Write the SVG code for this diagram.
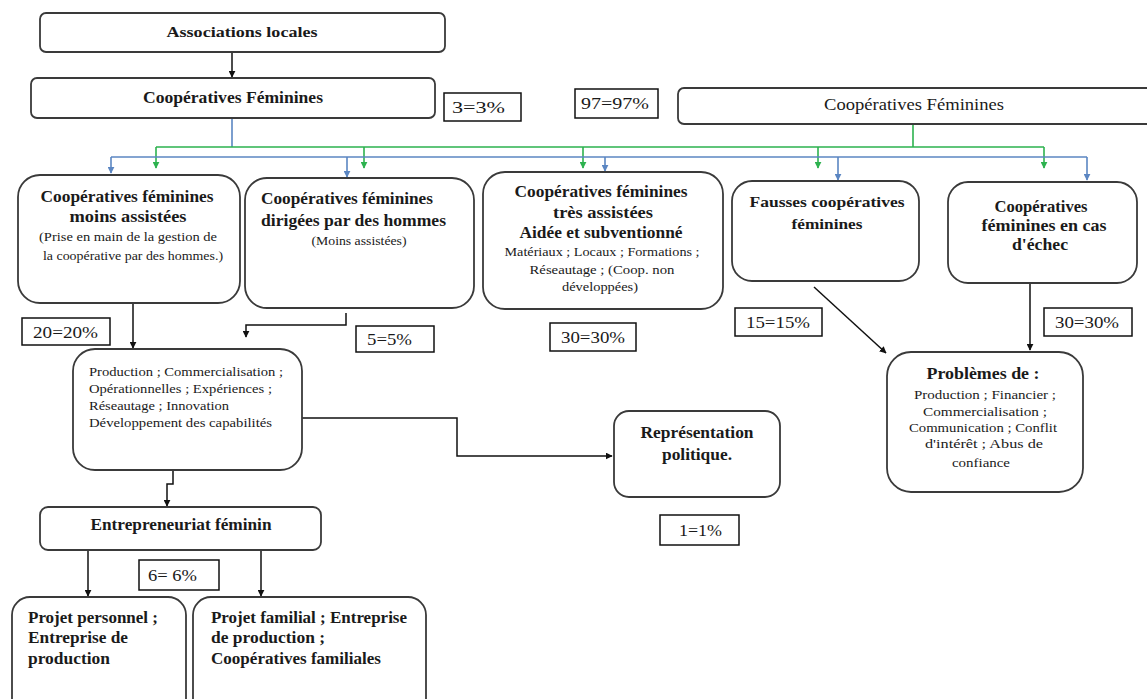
<svg xmlns="http://www.w3.org/2000/svg" width="1147" height="699" viewBox="0 0 1147 699">
<style>
.box{fill:#fff;stroke:#3a3a3a;stroke-width:1.8}
.pbox{fill:#fff;stroke:#111;stroke-width:1.5}
.t{font-family:"Liberation Serif","Times New Roman","DejaVu Serif",serif;fill:#1a1a1a}
.b{font-weight:bold}
.c{text-anchor:middle}
.blk{fill:none;stroke:#111;stroke-width:1.5}
.grn{fill:none;stroke:#2db24f;stroke-width:1.6}
.blu{fill:none;stroke:#5b86c2;stroke-width:1.6}
</style>
<defs>
<marker id="ab" viewBox="0 0 10 10" refX="9" refY="5" markerWidth="7" markerHeight="7" orient="auto" markerUnits="userSpaceOnUse"><path d="M0,0L10,5L0,10z" fill="#111"/></marker>
<marker id="ag" viewBox="0 0 10 10" refX="9" refY="5" markerWidth="7" markerHeight="7" orient="auto" markerUnits="userSpaceOnUse"><path d="M0,0L10,5L0,10z" fill="#2db24f"/></marker>
<marker id="al" viewBox="0 0 10 10" refX="9" refY="5" markerWidth="7" markerHeight="7" orient="auto" markerUnits="userSpaceOnUse"><path d="M0,0L10,5L0,10z" fill="#5b86c2"/></marker>
</defs>
<rect width="1147" height="699" fill="#fff"/>

<g id="connectors">
<path class="blk" d="M232,52V77" marker-end="url(#ab)"/>
<path class="blu" d="M232,118V147"/>
<path class="grn" d="M913,124V147M156,147H1044"/>
<path class="grn" d="M156,147V168" marker-end="url(#ag)"/>
<path class="grn" d="M364,147V168" marker-end="url(#ag)"/>
<path class="grn" d="M583,147V168" marker-end="url(#ag)"/>
<path class="grn" d="M818,147V168" marker-end="url(#ag)"/>
<path class="grn" d="M1044,147V168" marker-end="url(#ag)"/>
<path class="blu" d="M111,157H1087"/>
<path class="blu" d="M111,157V173" marker-end="url(#al)"/>
<path class="blu" d="M347,157V177" marker-end="url(#al)"/>
<path class="blu" d="M605,157V171" marker-end="url(#al)"/>
<path class="blu" d="M838,157V180" marker-end="url(#al)"/>
<path class="blu" d="M1087,157V180" marker-end="url(#al)"/>
<path class="blk" d="M133,302V348" marker-end="url(#ab)"/>
<path class="blk" d="M346,313V325H246V337" marker-end="url(#ab)"/>
<path class="blk" d="M302,418H457V456H612" marker-end="url(#ab)"/>
<path class="blk" d="M173,465V484H167V506" marker-end="url(#ab)"/>
<path class="blk" d="M814,287L886,353" marker-end="url(#ab)"/>
<path class="blk" d="M1030,283V350" marker-end="url(#ab)"/>
<path class="blk" d="M88,551V596" marker-end="url(#ab)"/>
<path class="blk" d="M261,551V596" marker-end="url(#ab)"/>
</g>

<g id="associations">
<rect class="box" x="40" y="13" width="405" height="39" rx="6"/>
<text class="t b c" x="242" y="37" font-size="15" textLength="151" lengthAdjust="spacingAndGlyphs">Associations locales</text>
</g>
<g id="coop-left">
<rect class="box" x="31" y="78" width="404" height="40" rx="6"/>
<text class="t b c" x="233" y="103" font-size="16" textLength="180" lengthAdjust="spacingAndGlyphs">Coopératives Féminines</text>
</g>
<g id="coop-right">
<rect class="box" x="678" y="88" width="480" height="36" rx="6"/>
<text class="t c" x="914" y="110" font-size="16" textLength="180" lengthAdjust="spacingAndGlyphs">Coopératives Féminines</text>
</g>
<g id="p3">
<rect class="pbox" x="444" y="93" width="77" height="28"/>
<text class="t" x="452" y="113" font-size="16" textLength="53" lengthAdjust="spacingAndGlyphs">3=3%</text>
</g>
<g id="p97">
<rect class="pbox" x="575" y="89" width="83" height="29"/>
<text class="t" x="581" y="109" font-size="16" textLength="68" lengthAdjust="spacingAndGlyphs">97=97%</text>
</g>

<g id="n1">
<rect class="box" x="18" y="175" width="222" height="128" rx="22"/>
<text class="t b c" x="127" y="202" font-size="16" textLength="173" lengthAdjust="spacingAndGlyphs">Coopératives féminines</text>
<text class="t b c" x="128" y="222" font-size="16" textLength="117" lengthAdjust="spacingAndGlyphs">moins assistées</text>
<text class="t c" x="128" y="241" font-size="12" textLength="178" lengthAdjust="spacingAndGlyphs">(Prise en main de la gestion de</text>
<text class="t c" x="133" y="260" font-size="12" textLength="180" lengthAdjust="spacingAndGlyphs">la coopérative par des hommes.)</text>
</g>
<g id="n2">
<rect class="box" x="245" y="178" width="229" height="130" rx="22"/>
<text class="t b" x="261" y="204" font-size="17" textLength="172" lengthAdjust="spacingAndGlyphs">Coopératives féminines</text>
<text class="t b" x="261" y="226" font-size="17" textLength="185" lengthAdjust="spacingAndGlyphs">dirigées par des hommes</text>
<text class="t c" x="359" y="245" font-size="12" textLength="95" lengthAdjust="spacingAndGlyphs">(Moins assistées)</text>
</g>
<g id="n3">
<rect class="box" x="483" y="172" width="240" height="137" rx="22"/>
<text class="t b c" x="601" y="197" font-size="16" textLength="173" lengthAdjust="spacingAndGlyphs">Coopératives féminines</text>
<text class="t b c" x="603" y="218" font-size="16" textLength="100" lengthAdjust="spacingAndGlyphs">très assistées</text>
<text class="t b c" x="601" y="238" font-size="16" textLength="163" lengthAdjust="spacingAndGlyphs">Aidée et subventionné</text>
<text class="t c" x="602" y="256" font-size="12" textLength="195" lengthAdjust="spacingAndGlyphs">Matériaux ; Locaux ; Formations ;</text>
<text class="t c" x="602" y="274" font-size="12" textLength="145" lengthAdjust="spacingAndGlyphs">Réseautage ;  (Coop. non</text>
<text class="t c" x="600" y="291" font-size="12" textLength="76" lengthAdjust="spacingAndGlyphs">développées)</text>
</g>
<g id="n4">
<rect class="box" x="732" y="181" width="187" height="100" rx="20"/>
<text class="t b c" x="827" y="207" font-size="15" textLength="155" lengthAdjust="spacingAndGlyphs">Fausses coopératives</text>
<text class="t b c" x="827" y="229" font-size="15" textLength="71" lengthAdjust="spacingAndGlyphs">féminines</text>
</g>
<g id="n5">
<rect class="box" x="948" y="182" width="189" height="101" rx="20"/>
<text class="t b c" x="1041" y="212" font-size="16" textLength="93" lengthAdjust="spacingAndGlyphs">Coopératives</text>
<text class="t b c" x="1044" y="231" font-size="16" textLength="125" lengthAdjust="spacingAndGlyphs">féminines en cas</text>
<text class="t b c" x="1040" y="250" font-size="16" textLength="56" lengthAdjust="spacingAndGlyphs">d'échec</text>
</g>

<g id="p20">
<rect class="pbox" x="22" y="318" width="88" height="27"/>
<text class="t" x="33" y="338" font-size="16" textLength="65" lengthAdjust="spacingAndGlyphs">20=20%</text>
</g>
<g id="p5">
<rect class="pbox" x="356" y="326" width="78" height="26"/>
<text class="t" x="367" y="345" font-size="16" textLength="45" lengthAdjust="spacingAndGlyphs">5=5%</text>
</g>
<g id="p30a">
<rect class="pbox" x="550" y="323" width="86" height="28"/>
<text class="t" x="561" y="343" font-size="16" textLength="64" lengthAdjust="spacingAndGlyphs">30=30%</text>
</g>
<g id="p15">
<rect class="pbox" x="735" y="308" width="87" height="28"/>
<text class="t" x="746" y="328" font-size="16" textLength="64" lengthAdjust="spacingAndGlyphs">15=15%</text>
</g>
<g id="p30b">
<rect class="pbox" x="1044" y="308" width="88" height="28"/>
<text class="t" x="1055" y="328" font-size="16" textLength="64" lengthAdjust="spacingAndGlyphs">30=30%</text>
</g>

<g id="production">
<rect class="box" x="73" y="349" width="229" height="121" rx="22"/>
<text class="t" x="89" y="376" font-size="13" textLength="194" lengthAdjust="spacingAndGlyphs">Production ; Commercialisation ;</text>
<text class="t" x="89" y="393" font-size="13" textLength="183" lengthAdjust="spacingAndGlyphs">Opérationnelles ; Expériences ;</text>
<text class="t" x="89" y="410" font-size="13" textLength="140" lengthAdjust="spacingAndGlyphs">Réseautage ; Innovation</text>
<text class="t" x="89" y="427" font-size="13" textLength="183" lengthAdjust="spacingAndGlyphs">Développement des capabilités</text>
</g>
<g id="representation">
<rect class="box" x="614" y="411" width="166" height="86" rx="15"/>
<text class="t b c" x="697" y="438" font-size="16" textLength="113" lengthAdjust="spacingAndGlyphs">Représentation</text>
<text class="t b c" x="697" y="460" font-size="16" textLength="70" lengthAdjust="spacingAndGlyphs">politique.</text>
</g>
<g id="p1">
<rect class="pbox" x="660" y="515" width="79" height="30"/>
<text class="t" x="679" y="536" font-size="16" textLength="43" lengthAdjust="spacingAndGlyphs">1=1%</text>
</g>
<g id="problemes">
<rect class="box" x="887" y="352" width="196" height="140" rx="24"/>
<text class="t b c" x="983" y="379" font-size="17" textLength="113" lengthAdjust="spacingAndGlyphs">Problèmes de :</text>
<text class="t c" x="985" y="399" font-size="12" textLength="142" lengthAdjust="spacingAndGlyphs">Production ; Financier ;</text>
<text class="t c" x="985" y="416" font-size="12" textLength="124" lengthAdjust="spacingAndGlyphs">Commercialisation ;</text>
<text class="t c" x="983" y="432" font-size="12" textLength="148" lengthAdjust="spacingAndGlyphs">Communication ; Conflit</text>
<text class="t c" x="984" y="448" font-size="12" textLength="118" lengthAdjust="spacingAndGlyphs">d'intérêt ; Abus de</text>
<text class="t c" x="981" y="467" font-size="12" textLength="58" lengthAdjust="spacingAndGlyphs">confiance</text>
</g>

<g id="entrepreneuriat">
<rect class="box" x="40" y="507" width="281" height="43" rx="8"/>
<text class="t b c" x="181" y="530" font-size="16" textLength="181" lengthAdjust="spacingAndGlyphs">Entrepreneuriat féminin</text>
</g>
<g id="p6">
<rect class="pbox" x="139" y="560" width="80" height="30"/>
<text class="t" x="148" y="581" font-size="16" textLength="49" lengthAdjust="spacingAndGlyphs">6= 6%</text>
</g>
<g id="projet-perso">
<rect class="box" x="12" y="597" width="174" height="120" rx="18"/>
<text class="t b" x="28" y="623" font-size="16" textLength="130" lengthAdjust="spacingAndGlyphs">Projet personnel ;</text>
<text class="t b" x="28" y="643" font-size="16" textLength="100" lengthAdjust="spacingAndGlyphs">Entreprise de</text>
<text class="t b" x="28" y="664" font-size="16" textLength="82" lengthAdjust="spacingAndGlyphs">production</text>
</g>
<g id="projet-fam">
<rect class="box" x="193" y="597" width="233" height="120" rx="18"/>
<text class="t b" x="211" y="623" font-size="16" textLength="196" lengthAdjust="spacingAndGlyphs">Projet familial ; Entreprise</text>
<text class="t b" x="211" y="643" font-size="16" textLength="114" lengthAdjust="spacingAndGlyphs">de production ;</text>
<text class="t b" x="211" y="664" font-size="16" textLength="170" lengthAdjust="spacingAndGlyphs">Coopératives familiales</text>
</g>
</svg>
